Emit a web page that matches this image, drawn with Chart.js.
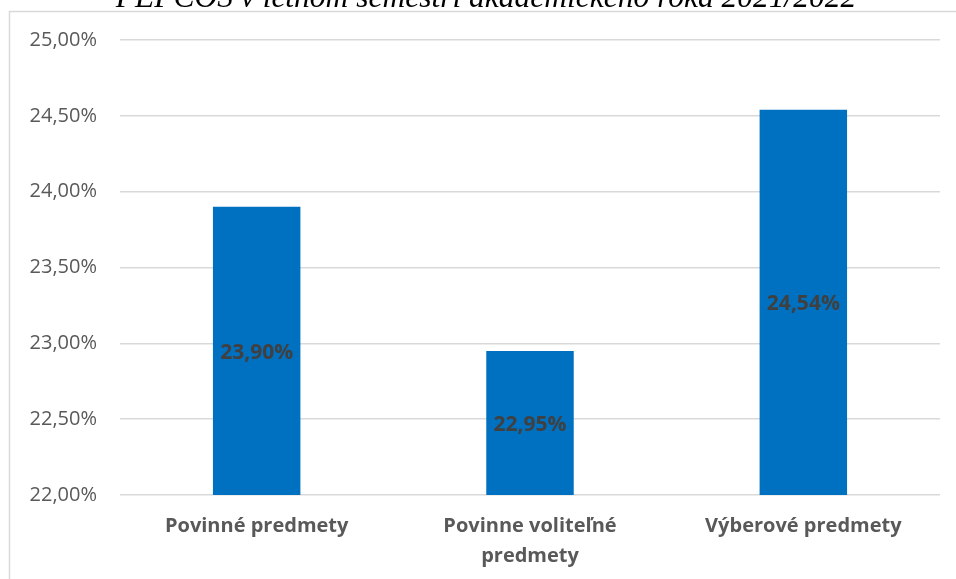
<!DOCTYPE html>
<html>
<head>
<meta charset="utf-8">
<script src="https://cdn.jsdelivr.net/npm/chart.js@4/dist/chart.umd.min.js"></script>
<style>
  html, body { margin: 0; padding: 0; background: #ffffff; }
  #wrap { position: relative; width: 956px; height: 579px; overflow: hidden; }
  canvas { display: block; }
</style>
</head>
<body>
<div id="wrap"><canvas id="c" width="956" height="579"></canvas></div>
<script>
// ---- data ----
const titleText = 'PEPCOS v letnom semestri akademického roka 2021/2022';
const categories = [
  'Povinné predmety',
  ['Povinne voliteľné', 'predmety'],
  'Výberové predmety'
];
const values = [23.90, 22.95, 24.54];
const yMin = 22.0;
const yMax = 25.0;
const yStep = 0.5;

const fmt = v => v.toFixed(2).replace('.', ',') + '%';

const frame = {
  id: 'frame',
  beforeDraw(chart) {
    const ctx = chart.ctx;
    ctx.save();
    ctx.fillStyle = '#ffffff';
    ctx.fillRect(0, 0, chart.width, chart.height);
    ctx.strokeStyle = '#d9d9d9';
    ctx.lineWidth = 1.5;
    ctx.beginPath();
    ctx.moveTo(9.5, chart.height);
    ctx.lineTo(9.5, 11.5);
    ctx.lineTo(chart.width, 11.5);
    ctx.stroke();
    ctx.fillStyle = '#000000';
    ctx.font = 'italic 31.5px "Liberation Serif", "DejaVu Serif", serif';
    ctx.textAlign = 'center';
    ctx.textBaseline = 'alphabetic';
    ctx.fillText(titleText, 486, 7);
    ctx.restore();
  }
};

const barLabels = {
  id: 'barLabels',
  afterDatasetsDraw(chart) {
    const ctx = chart.ctx;
    const meta = chart.getDatasetMeta(0);
    const yScale = chart.scales.y;
    ctx.save();
    ctx.fillStyle = '#404040';
    ctx.font = 'bold 21px "Open Sans", sans-serif';
    ctx.textAlign = 'center';
    ctx.textBaseline = 'middle';
    meta.data.forEach((bar, i) => {
      const top = yScale.getPixelForValue(values[i]);
      const base = yScale.getPixelForValue(yMin);
      ctx.fillText(fmt(values[i]), bar.x, (top + base) / 2 + 2);
    });
    ctx.restore();
  }
};

new Chart(document.getElementById('c'), {
  type: 'bar',
  data: {
    labels: categories,
    datasets: [{
      data: values,
      backgroundColor: '#0070C0',
      borderWidth: 0,
      barPercentage: 0.32,
      categoryPercentage: 1.0
    }]
  },
  options: {
    responsive: false,
    animation: false,
    devicePixelRatio: 1,
    layout: { padding: { left: 0, right: 16, top: 40, bottom: 0 } },
    plugins: {
      legend: { display: false },
      tooltip: { enabled: false },
      title: { display: false }
    },
    scales: {
      x: {
        grid: { display: false },
        border: { display: false },
        ticks: {
          color: '#595959',
          font: { family: '"Open Sans", sans-serif', size: 20, weight: 'bold', lineHeight: 1.5 },
          padding: 8,
          maxRotation: 0,
          autoSkip: false
        },
        afterFit(scale) { scale.height = 84; }
      },
      y: {
        min: yMin,
        max: yMax,
        grid: { color: '#d9d9d9', lineWidth: 1.5, drawTicks: false },
        border: { display: false },
        ticks: {
          stepSize: yStep,
          color: '#595959',
          font: { family: '"Open Sans", sans-serif', size: 20 },
          padding: 23,
          callback: v => fmt(v)
        },
        afterFit(scale) { scale.width = 120; }
      }
    }
  },
  plugins: [frame, barLabels]
});
</script>
</body>
</html>
